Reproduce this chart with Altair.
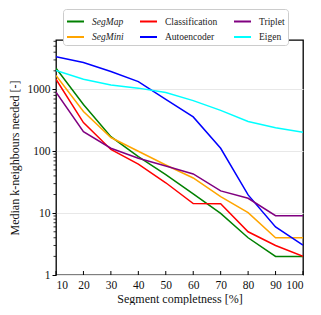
import altair as alt
import pandas as pd

completeness = [10, 20, 30, 40, 50, 60, 70, 80, 90, 100]
segmap = [2200, 570, 172, 82, 42, 20.5, 9.9, 4.0, 2.0, 2.0]
segmini = [1680, 440, 167, 100, 60, 37, 18.5, 10.2, 4.0, 4.0]
classification = [1460, 291, 107, 62, 31, 14.3, 14.2, 5.0, 3.0, 2.0]
autoencoder = [3380, 2720, 1950, 1340, 690, 360, 112, 19.7, 6.0, 3.05]
triplet = [900, 208, 112, 77, 58, 43, 22.9, 17.4, 9.1, 9.1]
eigen = [2020, 1460, 1180, 1050, 890, 660, 458, 303, 240, 203]

# legend is filled column by column
series_names = ["SegMap", "SegMini", "Classification", "Autoencoder", "Triplet", "Eigen"]
series_values = [segmap, segmini, classification, autoencoder, triplet, eigen]
series_colors = ["#008000", "#ffa500", "#ff0000", "#0000ff", "#800080", "#00ffff"]

y_major = [1, 10, 100, 1000]
y_minor = [m * d for d in [1, 10, 100, 1000] for m in range(2, 10) if m * d <= 6300]
x_ticks = completeness

rows = []
for name, vals in zip(series_names, series_values):
    for x, v in zip(completeness, vals):
        rows.append({"x": x, "y": v, "series": name})
df = pd.DataFrame(rows)

W, H = 247, 235
FONT = "Liberation Serif"

xscale = alt.Scale(domain=[10, 100], nice=False, zero=False)
yscale = alt.Scale(type="log", domain=[1, 6300], nice=False)

xaxis = alt.Axis(values=x_ticks, title="Segment completness [%]", grid=False,
                 tickSize=0, labelPadding=4, titlePadding=3, domain=False,
                 format="d", labelOverlap=False)
yaxis = alt.Axis(values=y_major, title="Median k-neighbours needed [-]", grid=True,
                 gridColor="#e8e8e8", tickSize=4, domain=False, format="d",
                 labelPadding=2, titlePadding=6, labelOverlap=False)

lines = alt.Chart(df).mark_line(strokeWidth=1.5, clip=True).encode(
    x=alt.X("x:Q", scale=xscale, axis=xaxis),
    y=alt.Y("y:Q", scale=yscale, axis=yaxis),
    color=alt.Color("series:N",
                    scale=alt.Scale(domain=series_names, range=series_colors),
                    legend=alt.Legend(
                        title=None, orient="none", legendX=7, legendY=-31, columns=3,
                        symbolType="stroke", symbolStrokeWidth=2, symbolSize=289,
                        labelFont=FONT, labelFontSize=9.5, labelColor="#222",
                        labelFontStyle={"expr": "datum.label == 'SegMap' || datum.label == 'SegMini' ? 'italic' : 'normal'"},
                        strokeColor="#cccccc", fillColor="white", cornerRadius=3,
                        padding=3, rowPadding=1.5, columnPadding=12, labelOffset=7)),
)

xt = alt.Chart(pd.DataFrame({"x": x_ticks})).mark_rule(color="black", strokeWidth=1).encode(
    x=alt.X("x:Q", scale=xscale, axis=xaxis),
    y=alt.value(H - 4), y2=alt.value(H),
)

ym = alt.Chart(pd.DataFrame({"y": y_minor})).mark_rule(color="black", strokeWidth=0.8).encode(
    y=alt.Y("y:Q", scale=yscale, axis=yaxis),
    x=alt.value(-2.5), x2=alt.value(0),
)

chart = alt.layer(lines, xt, ym).properties(
    width=W, height=H,
    padding={"left": 0, "top": 0, "right": 0, "bottom": 0},
).configure_view(
    stroke="black", strokeWidth=1.3
).configure_axis(
    labelFont=FONT, titleFont=FONT, labelFontSize=11.5, titleFontSize=12,
    titleFontWeight="normal", labelColor="#111", titleColor="#111", tickColor="black",
)

chart.save("out.html", embed_options={"renderer": "svg", "actions": False})
